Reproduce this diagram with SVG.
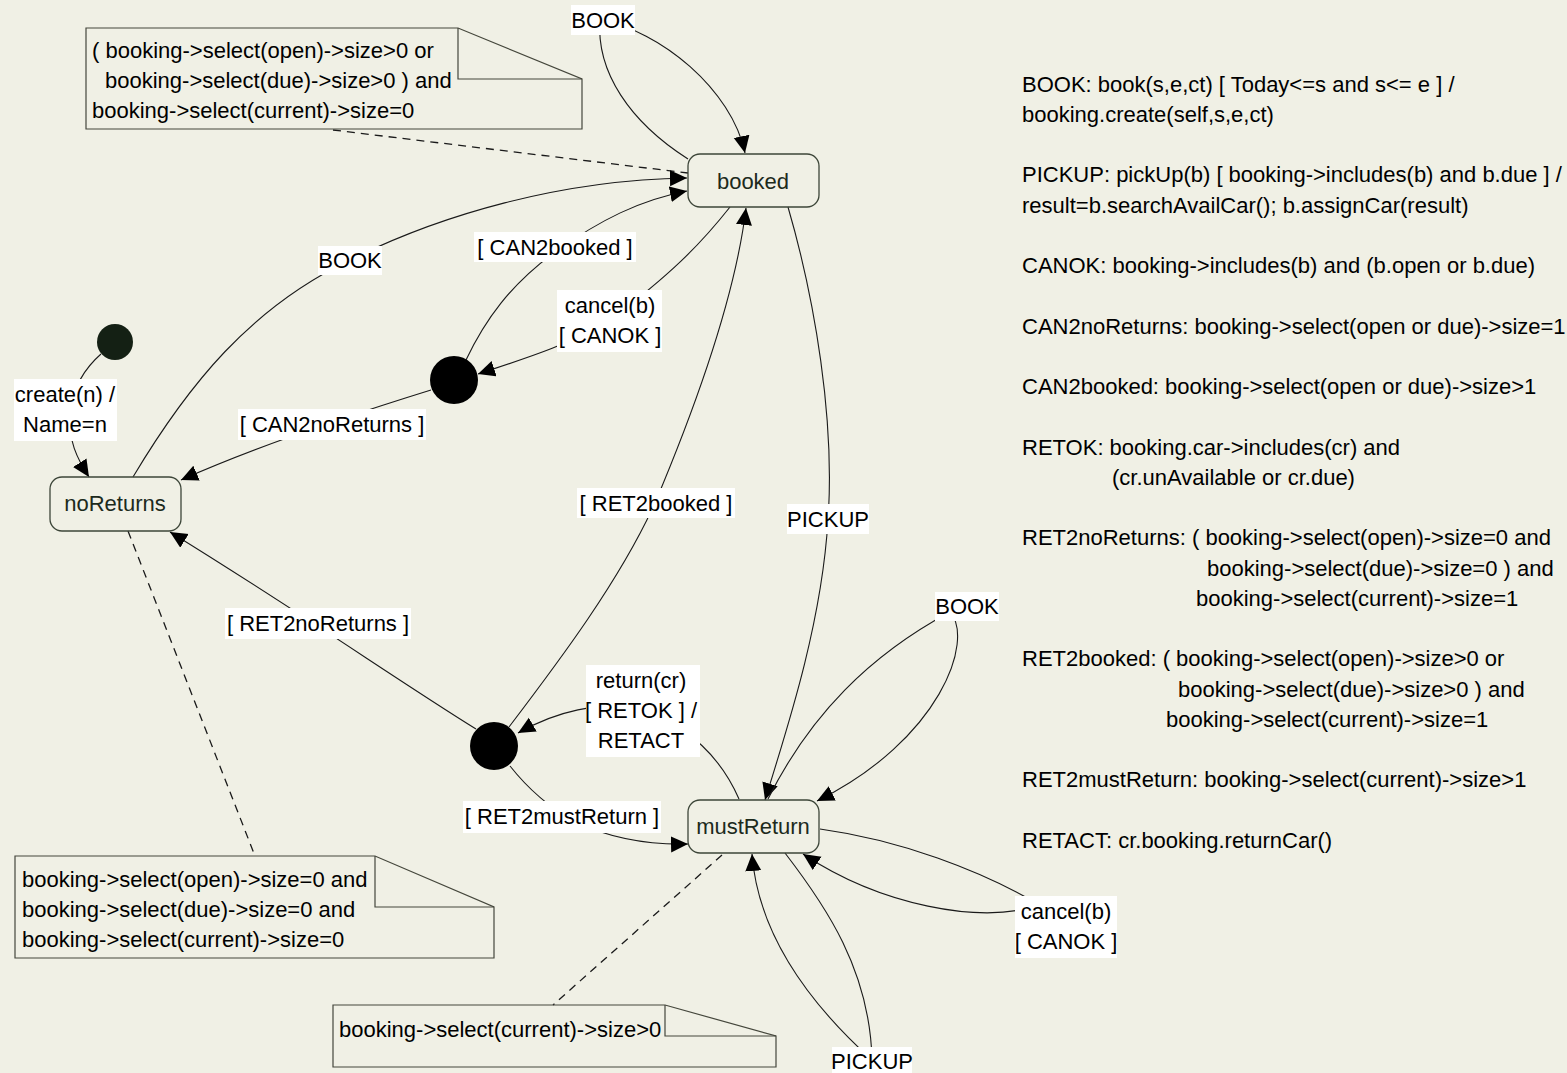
<svg xmlns="http://www.w3.org/2000/svg" width="1567" height="1073" viewBox="0 0 1567 1073">
  <defs>
    <style>
      text { font-family: "Liberation Sans", Arial, Helvetica, sans-serif; font-size: 22px; fill: #000; }
      .st rect { fill: none; stroke: #3d4639; stroke-width: 1.3; }
      .st text { fill: #1c2a1c; text-anchor: middle; }
      .lbl rect { fill: #fff; }
      .lbl text { text-anchor: middle; }
      .edge { fill: none; stroke: #1a1a1a; stroke-width: 1.1; marker-end: url(#arr); }
      .dash { fill: none; stroke: #1a1a1a; stroke-width: 1.3; stroke-dasharray: 8 6; }
      .note path { fill: none; stroke: #45473c; stroke-width: 1.2; }
    </style>
    <marker id="arr" markerUnits="userSpaceOnUse" markerWidth="19" markerHeight="17" refX="17" refY="8" orient="auto">
      <path d="M0,0 L17,8 L0,16 z" fill="#000"/>
    </marker>
  </defs>

  <rect x="0" y="0" width="1567" height="1073" fill="#f0f0e5"/>

  <!-- transitions -->
  <g id="connectors">
    <!-- self transition on booked -->
    <path class="edge" d="M688,159 C630,122 596,72 600,20 C660,30 732,90 745,153"/>
    <!-- note anchors -->
    <path class="dash" d="M333,130 L688,173"/>
    <path class="dash" d="M128,531 L255,856"/>
    <path class="dash" d="M722,855 L553,1005"/>
    <!-- noReturns -> booked -->
    <path class="edge" d="M133,477 C188,385 250,308 350,260 C440,215 560,180 687,178"/>
    <!-- choice -> booked -->
    <path class="edge" d="M466,360 C485,320 510,285 555,252 C600,220 640,200 687,191"/>
    <!-- booked -> choice -->
    <path class="edge" d="M730,207 C700,245 670,275 610,320 C570,345 520,360 478,374"/>
    <!-- choice -> noReturns -->
    <path class="edge" d="M431,390 C360,412 260,445 181,480"/>
    <!-- initial -> noReturns -->
    <path class="edge" d="M101,354 C85,368 74,385 70,410 C67,440 78,460 89,477"/>
    <!-- booked -> mustReturn -->
    <path class="edge" d="M788,207 C815,300 835,420 828,520 C822,620 790,720 765,800"/>
    <!-- return choice -> booked -->
    <path class="edge" d="M509,727 C560,660 620,580 655,503 C690,420 735,300 746,208"/>
    <!-- return choice -> noReturns -->
    <path class="edge" d="M476,729 C400,682 300,612 170,532"/>
    <!-- mustReturn -> return choice -->
    <path class="edge" d="M739,799 C722,760 690,725 640,710 C600,700 555,712 518,733"/>
    <!-- return choice -> mustReturn -->
    <path class="edge" d="M510,766 C525,785 545,805 575,822 C610,838 650,845 688,844"/>
    <!-- self transitions on mustReturn -->
    <path class="edge" d="M768,799 C810,715 870,655 950,612 C975,640 940,740 817,801"/>
    <path class="edge" d="M820,829 C900,840 980,870 1040,905 C980,925 880,905 803,854"/>
    <path class="edge" d="M785,853 C825,905 870,970 872,1060 C850,1040 760,960 752,854"/>
  </g>

  <!-- transition labels -->
  <g id="labels" class="lbl">
    <rect x="571" y="5" width="64" height="30"/><text x="603" y="28">BOOK</text>
    <rect x="318" y="246" width="64" height="29"/><text x="350" y="268">BOOK</text>
    <rect x="474" y="232" width="162" height="30"/><text x="555" y="255">[ CAN2booked ]</text>
    <rect x="557" y="290" width="105" height="62"/><text x="610" y="313">cancel(b)</text><text x="610" y="343">[ CANOK ]</text>
    <rect x="238" y="409" width="188" height="31"/><text x="332" y="432">[ CAN2noReturns ]</text>
    <rect x="14" y="379" width="103" height="62"/><text x="65" y="402">create(n) /</text><text x="65" y="432">Name=n</text>
    <rect x="577" y="488" width="158" height="30"/><text x="656" y="511">[ RET2booked ]</text>
    <rect x="787" y="504" width="82" height="30"/><text x="828" y="527">PICKUP</text>
    <rect x="225" y="608" width="186" height="31"/><text x="318" y="631">[ RET2noReturns ]</text>
    <rect x="935" y="592" width="64" height="29"/><text x="967" y="614">BOOK</text>
    <rect x="586" y="665" width="114" height="92"/><text x="641" y="688">return(cr)</text><text x="641" y="718">[ RETOK ] /</text><text x="641" y="748">RETACT</text>
    <rect x="463" y="801" width="198" height="32"/><text x="562" y="824">[ RET2mustReturn ]</text>
    <rect x="1015" y="896" width="102" height="62"/><text x="1066" y="919">cancel(b)</text><text x="1066" y="949">[ CANOK ]</text>
    <rect x="832" y="1047" width="80" height="26"/><text x="872" y="1069">PICKUP</text>
  </g>

  <!-- states -->
  <g id="initial"><circle cx="115" cy="342" r="18" fill="#142014"/></g>
  <g id="choiceCancel"><circle cx="454" cy="380" r="24" fill="#000"/></g>
  <g id="choiceReturn"><circle cx="494" cy="746" r="24" fill="#000"/></g>

  <g id="booked" class="st">
    <rect x="688" y="154" width="131" height="53" rx="12"/>
    <text x="753" y="189">booked</text>
  </g>
  <g id="noReturns" class="st">
    <rect x="50" y="477" width="131" height="54" rx="12"/>
    <text x="115" y="511">noReturns</text>
  </g>
  <g id="mustReturn" class="st">
    <rect x="688" y="800" width="131" height="53" rx="12"/>
    <text x="753" y="834">mustReturn</text>
  </g>

  <!-- notes -->
  <g id="noteBooked" class="note">
    <path d="M86,28 H458 L582,79 V129 H86 Z"/>
    <path d="M458,28 V79 H582"/>
    <text x="92" y="58">( booking-&gt;select(open)-&gt;size&gt;0 or</text>
    <text x="105" y="88">booking-&gt;select(due)-&gt;size&gt;0 ) and</text>
    <text x="92" y="118">booking-&gt;select(current)-&gt;size=0</text>
  </g>
  <g id="noteNoReturns" class="note">
    <path d="M15,856 H375 L494,907 V958 H15 Z"/>
    <path d="M375,856 V907 H494"/>
    <text x="22" y="887">booking-&gt;select(open)-&gt;size=0 and</text>
    <text x="22" y="917">booking-&gt;select(due)-&gt;size=0 and</text>
    <text x="22" y="947">booking-&gt;select(current)-&gt;size=0</text>
  </g>
  <g id="noteMustReturn" class="note">
    <path d="M333,1005 H665 L776,1036 V1067 H333 Z"/>
    <path d="M665,1005 V1036 H776"/>
    <text x="339" y="1037">booking-&gt;select(current)-&gt;size&gt;0</text>
  </g>

  <!-- guard and action definitions -->
  <g id="definitions">
    <text x="1022" y="91.5">BOOK: book(s,e,ct) [ Today&lt;=s and s&lt;= e ] /</text>
    <text x="1022" y="121.8">booking.create(self,s,e,ct)</text>
    <text x="1022" y="182.3">PICKUP: pickUp(b) [ booking-&gt;includes(b) and b.due ] /</text>
    <text x="1022" y="212.5">result=b.searchAvailCar(); b.assignCar(result)</text>
    <text x="1022" y="273">CANOK: booking-&gt;includes(b) and (b.open or b.due)</text>
    <text x="1022" y="333.5">CAN2noReturns: booking-&gt;select(open or due)-&gt;size=1</text>
    <text x="1022" y="394">CAN2booked: booking-&gt;select(open or due)-&gt;size&gt;1</text>
    <text x="1022" y="454.5">RETOK: booking.car-&gt;includes(cr) and</text>
    <text x="1112" y="484.8">(cr.unAvailable or cr.due)</text>
    <text x="1022" y="545.3">RET2noReturns: ( booking-&gt;select(open)-&gt;size=0 and</text>
    <text x="1207" y="575.5">booking-&gt;select(due)-&gt;size=0 ) and</text>
    <text x="1196" y="605.8">booking-&gt;select(current)-&gt;size=1</text>
    <text x="1022" y="666.3">RET2booked: ( booking-&gt;select(open)-&gt;size&gt;0 or</text>
    <text x="1178" y="696.5">booking-&gt;select(due)-&gt;size&gt;0 ) and</text>
    <text x="1166" y="726.8">booking-&gt;select(current)-&gt;size=1</text>
    <text x="1022" y="787.3">RET2mustReturn: booking-&gt;select(current)-&gt;size&gt;1</text>
    <text x="1022" y="847.8">RETACT: cr.booking.returnCar()</text>
  </g>
</svg>
